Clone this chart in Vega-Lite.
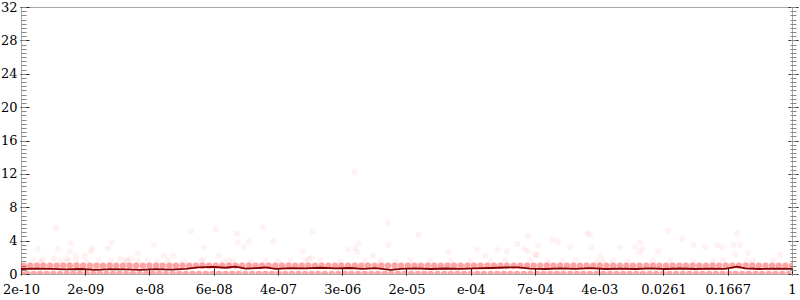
{
  "$schema": "https://vega.github.io/schema/vega-lite/v6.json",
  "autosize": "none",
  "width": 771,
  "height": 267,
  "padding": {"left": 21, "top": 7, "right": 8, "bottom": 26},
  "background": "white",
  "config": {
    "view": {"stroke": "#a8a8a8", "strokeWidth": 1},
    "axis": {"labelFont": "DejaVu Serif", "labelFontSize": 13, "labelColor": "#000", "grid": false, "domain": false, "title": null}
  },
  "datasets": {
    "band1": [
      {"x":2.15e-10,"y":1},{"x":2.61e-10,"y":1},{"x":3.16e-10,"y":1},{"x":3.83e-10,"y":1},{"x":4.64e-10,"y":1},{"x":5.62e-10,"y":1},{"x":6.81e-10,"y":1},{"x":8.25e-10,"y":1},
      {"x":1e-9,"y":1},{"x":1.21e-9,"y":1},{"x":1.47e-9,"y":1},{"x":1.78e-9,"y":1},{"x":2.15e-9,"y":1},{"x":2.61e-9,"y":1},{"x":3.16e-9,"y":1},{"x":3.83e-9,"y":1},{"x":4.64e-9,"y":1},{"x":5.62e-9,"y":1},{"x":6.81e-9,"y":1},{"x":8.25e-9,"y":1},
      {"x":1e-8,"y":1},{"x":1.21e-8,"y":1},{"x":1.47e-8,"y":1},{"x":1.78e-8,"y":1},{"x":2.15e-8,"y":1},{"x":2.61e-8,"y":1},{"x":3.16e-8,"y":1},{"x":3.83e-8,"y":1},{"x":4.64e-8,"y":1},{"x":5.62e-8,"y":1},{"x":6.81e-8,"y":1},{"x":8.25e-8,"y":1},
      {"x":1e-7,"y":1},{"x":1.21e-7,"y":1},{"x":1.47e-7,"y":1},{"x":1.78e-7,"y":1},{"x":2.15e-7,"y":1},{"x":2.61e-7,"y":1},{"x":3.16e-7,"y":1},{"x":3.83e-7,"y":1},{"x":4.64e-7,"y":1},{"x":5.62e-7,"y":1},{"x":6.81e-7,"y":1},{"x":8.25e-7,"y":1},
      {"x":1e-6,"y":1},{"x":1.21e-6,"y":1},{"x":1.47e-6,"y":1},{"x":1.78e-6,"y":1},{"x":2.15e-6,"y":1},{"x":2.61e-6,"y":1},{"x":3.16e-6,"y":1},{"x":3.83e-6,"y":1},{"x":4.64e-6,"y":1},{"x":5.62e-6,"y":1},{"x":6.81e-6,"y":1},{"x":8.25e-6,"y":1},
      {"x":1e-5,"y":1},{"x":1.21e-5,"y":1},{"x":1.47e-5,"y":1},{"x":1.78e-5,"y":1},{"x":2.15e-5,"y":1},{"x":2.61e-5,"y":1},{"x":3.16e-5,"y":1},{"x":3.83e-5,"y":1},{"x":4.64e-5,"y":1},{"x":5.62e-5,"y":1},{"x":6.81e-5,"y":1},{"x":8.25e-5,"y":1},
      {"x":1e-4,"y":1},{"x":1.21e-4,"y":1},{"x":1.47e-4,"y":1},{"x":1.78e-4,"y":1},{"x":2.15e-4,"y":1},{"x":2.61e-4,"y":1},{"x":3.16e-4,"y":1},{"x":3.83e-4,"y":1},{"x":4.64e-4,"y":1},{"x":5.62e-4,"y":1},{"x":6.81e-4,"y":1},{"x":8.25e-4,"y":1},
      {"x":1e-3,"y":1},{"x":1.21e-3,"y":1},{"x":1.47e-3,"y":1},{"x":1.78e-3,"y":1},{"x":2.15e-3,"y":1},{"x":2.61e-3,"y":1},{"x":3.16e-3,"y":1},{"x":3.83e-3,"y":1},{"x":4.64e-3,"y":1},{"x":5.62e-3,"y":1},{"x":6.81e-3,"y":1},{"x":8.25e-3,"y":1},
      {"x":1e-2,"y":1},{"x":1.21e-2,"y":1},{"x":1.47e-2,"y":1},{"x":1.78e-2,"y":1},{"x":2.15e-2,"y":1},{"x":2.61e-2,"y":1},{"x":3.16e-2,"y":1},{"x":3.83e-2,"y":1},{"x":4.64e-2,"y":1},{"x":5.62e-2,"y":1},{"x":6.81e-2,"y":1},{"x":8.25e-2,"y":1},
      {"x":0.1,"y":1},{"x":0.121,"y":1},{"x":0.147,"y":1},{"x":0.178,"y":1},{"x":0.215,"y":1},{"x":0.261,"y":1},{"x":0.316,"y":1},{"x":0.383,"y":1},{"x":0.464,"y":1},{"x":0.562,"y":1},{"x":0.681,"y":1},{"x":0.825,"y":1},{"x":1,"y":1}
    ],
    "band0": [
      {"x":2e-10,"y":0},{"x":2.37e-10,"y":0},{"x":2.87e-10,"y":0},{"x":3.48e-10,"y":0},{"x":4.22e-10,"y":0},{"x":5.11e-10,"y":0},{"x":6.19e-10,"y":0},{"x":7.5e-10,"y":0},{"x":9.09e-10,"y":0},
      {"x":1.1e-9,"y":0},{"x":1.33e-9,"y":0},{"x":1.62e-9,"y":0},{"x":1.96e-9,"y":0},{"x":2.37e-9,"y":0},{"x":2.87e-9,"y":0},{"x":3.48e-9,"y":0},{"x":4.22e-9,"y":0},{"x":5.11e-9,"y":0},{"x":6.19e-9,"y":0},{"x":7.5e-9,"y":0},{"x":9.09e-9,"y":0},
      {"x":1.1e-8,"y":0},{"x":1.33e-8,"y":0},{"x":1.62e-8,"y":0},{"x":1.96e-8,"y":0},{"x":2.37e-8,"y":0},{"x":2.87e-8,"y":0},{"x":3.48e-8,"y":0},{"x":4.22e-8,"y":0},{"x":5.11e-8,"y":0},{"x":6.19e-8,"y":0},{"x":7.5e-8,"y":0},{"x":9.09e-8,"y":0},
      {"x":1.1e-7,"y":0},{"x":1.33e-7,"y":0},{"x":1.62e-7,"y":0},{"x":1.96e-7,"y":0},{"x":2.37e-7,"y":0},{"x":2.87e-7,"y":0},{"x":3.48e-7,"y":0},{"x":4.22e-7,"y":0},{"x":5.11e-7,"y":0},{"x":6.19e-7,"y":0},{"x":7.5e-7,"y":0},{"x":9.09e-7,"y":0},
      {"x":1.1e-6,"y":0},{"x":1.33e-6,"y":0},{"x":1.62e-6,"y":0},{"x":1.96e-6,"y":0},{"x":2.37e-6,"y":0},{"x":2.87e-6,"y":0},{"x":3.48e-6,"y":0},{"x":4.22e-6,"y":0},{"x":5.11e-6,"y":0},{"x":6.19e-6,"y":0},{"x":7.5e-6,"y":0},{"x":9.09e-6,"y":0},
      {"x":1.1e-5,"y":0},{"x":1.33e-5,"y":0},{"x":1.62e-5,"y":0},{"x":1.96e-5,"y":0},{"x":2.37e-5,"y":0},{"x":2.87e-5,"y":0},{"x":3.48e-5,"y":0},{"x":4.22e-5,"y":0},{"x":5.11e-5,"y":0},{"x":6.19e-5,"y":0},{"x":7.5e-5,"y":0},{"x":9.09e-5,"y":0},
      {"x":1.1e-4,"y":0},{"x":1.33e-4,"y":0},{"x":1.62e-4,"y":0},{"x":1.96e-4,"y":0},{"x":2.37e-4,"y":0},{"x":2.87e-4,"y":0},{"x":3.48e-4,"y":0},{"x":4.22e-4,"y":0},{"x":5.11e-4,"y":0},{"x":6.19e-4,"y":0},{"x":7.5e-4,"y":0},{"x":9.09e-4,"y":0},
      {"x":1.1e-3,"y":0},{"x":1.33e-3,"y":0},{"x":1.62e-3,"y":0},{"x":1.96e-3,"y":0},{"x":2.37e-3,"y":0},{"x":2.87e-3,"y":0},{"x":3.48e-3,"y":0},{"x":4.22e-3,"y":0},{"x":5.11e-3,"y":0},{"x":6.19e-3,"y":0},{"x":7.5e-3,"y":0},{"x":9.09e-3,"y":0},
      {"x":1.1e-2,"y":0},{"x":1.33e-2,"y":0},{"x":1.62e-2,"y":0},{"x":1.96e-2,"y":0},{"x":2.37e-2,"y":0},{"x":2.87e-2,"y":0},{"x":3.48e-2,"y":0},{"x":4.22e-2,"y":0},{"x":5.11e-2,"y":0},{"x":6.19e-2,"y":0},{"x":7.5e-2,"y":0},{"x":9.09e-2,"y":0},
      {"x":0.11,"y":0},{"x":0.133,"y":0},{"x":0.162,"y":0},{"x":0.196,"y":0},{"x":0.237,"y":0},{"x":0.287,"y":0},{"x":0.348,"y":0},{"x":0.422,"y":0},{"x":0.511,"y":0},{"x":0.619,"y":0},{"x":0.75,"y":0},{"x":0.909,"y":0}
    ],
    "scatter": [
      {"x":3.27e-10,"y":3.05},{"x":5.5e-10,"y":5.45},{"x":5.8e-10,"y":3.05},{"x":8.5e-10,"y":3.7},{"x":8.3e-10,"y":2.7},{"x":1.56e-9,"y":3.05},{"x":1.51e-9,"y":2.7},{"x":2.48e-9,"y":3.05},{"x":2.78e-9,"y":3.8},{"x":9.8e-10,"y":2.2},{"x":1.27e-9,"y":2.2},{"x":5.2e-10,"y":1.85},{"x":7.6e-10,"y":1.85},{"x":3.6e-9,"y":1.85},{"x":4.8e-9,"y":1.85},{"x":5.9e-9,"y":2.45},{"x":9.4e-9,"y":3.5},{"x":1.25e-8,"y":2.2},{"x":1.67e-8,"y":2.2},{"x":2.73e-8,"y":5.1},{"x":3.98e-8,"y":3.2},{"x":5.6e-8,"y":5.3},{"x":6.1e-8,"y":2.2},{"x":1.04e-7,"y":4.85},{"x":1.07e-7,"y":3.8},{"x":1.46e-7,"y":3.9},{"x":1.27e-7,"y":3.2},{"x":2.2e-7,"y":5.6},{"x":3.0e-7,"y":3.9},{"x":7.0e-7,"y":2.7},{"x":8.3e-7,"y":1.85},{"x":9.1e-7,"y":1.9},{"x":9.3e-7,"y":5.1},{"x":2.57e-6,"y":2.9},{"x":3.15e-6,"y":12.2},{"x":3.2e-6,"y":3.05},{"x":3.5e-6,"y":3.65},{"x":3.4e-6,"y":2.6},{"x":5.4e-6,"y":2.2},{"x":8.2e-6,"y":6.2},{"x":8.4e-6,"y":3.5},{"x":2.0e-5,"y":4.7},{"x":4.8e-5,"y":2.7},{"x":1.1e-4,"y":2.9},{"x":1.39e-4,"y":2.2},{"x":1.97e-4,"y":2.9},{"x":2.6e-4,"y":2.7},{"x":3.5e-4,"y":3.6},{"x":4.7e-4,"y":2.7},{"x":6.1e-4,"y":2.3},{"x":4.3e-4,"y":3.05},{"x":4.8e-4,"y":4.5},{"x":5.9e-4,"y":2.35},{"x":6.4e-4,"y":3.4},{"x":9.7e-4,"y":4.1},{"x":1.15e-3,"y":3.9},{"x":1.63e-3,"y":3.2},{"x":2.66e-3,"y":4.85},{"x":2.9e-3,"y":4.7},{"x":2.99e-3,"y":3.2},{"x":3.87e-3,"y":2.2},{"x":6.9e-3,"y":3.2},{"x":0.0107,"y":3.2},{"x":0.0123,"y":3.8},{"x":0.0131,"y":3.05},{"x":0.0121,"y":2.6},{"x":0.0207,"y":2.7},{"x":0.0277,"y":5.2},{"x":0.0416,"y":4.25},{"x":0.0571,"y":3.5},{"x":0.081,"y":3.2},{"x":0.1146,"y":3.5},{"x":0.132,"y":3.2},{"x":0.204,"y":4.85},{"x":0.182,"y":3.5},{"x":0.222,"y":3.5},{"x":0.192,"y":2.35},{"x":0.28,"y":2.55},{"x":0.708,"y":2.35},
      {"x":2.83e-10,"y":1.6},{"x":3.56e-10,"y":1.5},{"x":3.78e-10,"y":1.7},{"x":6.4e-10,"y":1.55},{"x":7.8e-10,"y":1.5},{"x":9.8e-10,"y":1.6},{"x":1.31e-9,"y":1.55},{"x":1.91e-9,"y":1.7},{"x":2.7e-9,"y":1.5},{"x":4.2e-9,"y":1.6},{"x":4.4e-9,"y":1.5},{"x":5.9e-9,"y":1.55},{"x":7.9e-9,"y":1.6},{"x":1.05e-8,"y":1.5},{"x":1.41e-8,"y":1.65},{"x":2.23e-8,"y":1.5},{"x":3.66e-8,"y":1.55},{"x":3.87e-8,"y":1.7},{"x":7.1e-8,"y":1.5},{"x":8.2e-8,"y":1.6},{"x":9.2e-8,"y":1.55},{"x":1.55e-7,"y":1.5},{"x":2.4e-7,"y":1.6},{"x":3.4e-7,"y":1.55},{"x":4.9e-7,"y":1.6},{"x":7.6e-7,"y":1.5},{"x":1.17e-6,"y":1.65},{"x":2.1e-6,"y":1.5},{"x":4.3e-6,"y":1.55},{"x":6.7e-6,"y":1.6},{"x":1.03e-5,"y":1.5},{"x":1.59e-5,"y":1.7},{"x":2.83e-5,"y":1.55},{"x":5.1e-5,"y":1.6},{"x":9.0e-5,"y":1.5},{"x":1.61e-4,"y":1.55},{"x":2.48e-4,"y":1.6},{"x":5.1e-4,"y":1.6},{"x":8.4e-4,"y":1.5},{"x":1.29e-3,"y":1.55},{"x":1.88e-3,"y":1.65},{"x":3.55e-3,"y":1.5},{"x":4.2e-3,"y":1.55},{"x":5.6e-3,"y":1.6},{"x":8.5e-3,"y":1.5},{"x":0.0179,"y":1.55},{"x":0.0294,"y":1.6},{"x":0.0571,"y":1.5},{"x":0.102,"y":1.55},{"x":0.136,"y":1.6},{"x":0.273,"y":1.5},{"x":0.324,"y":1.55},{"x":0.578,"y":1.6}
    ],
    "mean": [
      {"x":2e-10,"y":0.6},{"x":3.1e-10,"y":0.65},{"x":4.8e-10,"y":0.62},{"x":7.3e-10,"y":0.55},{"x":1.13e-9,"y":0.6},{"x":1.75e-9,"y":0.5},{"x":2.7e-9,"y":0.58},{"x":4.2e-9,"y":0.55},{"x":6.4e-9,"y":0.5},{"x":9.9e-9,"y":0.58},{"x":1.53e-8,"y":0.52},{"x":2.37e-8,"y":0.62},{"x":3.35e-8,"y":0.8},{"x":5.2e-8,"y":0.85},{"x":7.5e-8,"y":0.75},{"x":1.0e-7,"y":0.88},{"x":1.34e-7,"y":0.65},{"x":1.95e-7,"y":0.72},{"x":2.4e-7,"y":0.8},{"x":3.2e-7,"y":0.62},{"x":4.9e-7,"y":0.7},{"x":7.6e-7,"y":0.68},{"x":1.17e-6,"y":0.75},{"x":1.82e-6,"y":0.68},{"x":2.8e-6,"y":0.72},{"x":3.96e-6,"y":0.62},{"x":5.8e-6,"y":0.7},{"x":8.9e-6,"y":0.5},{"x":1.19e-5,"y":0.62},{"x":1.84e-5,"y":0.68},{"x":2.83e-5,"y":0.6},{"x":4.4e-5,"y":0.66},{"x":6.7e-5,"y":0.62},{"x":1.04e-4,"y":0.68},{"x":1.61e-4,"y":0.72},{"x":2.48e-4,"y":0.78},{"x":3.6e-4,"y":0.8},{"x":5.1e-4,"y":0.65},{"x":7.9e-4,"y":0.6},{"x":1.22e-3,"y":0.68},{"x":1.88e-3,"y":0.62},{"x":2.9e-3,"y":0.7},{"x":4.5e-3,"y":0.6},{"x":6.9e-3,"y":0.65},{"x":0.0107,"y":0.6},{"x":0.0164,"y":0.68},{"x":0.0254,"y":0.6},{"x":0.0392,"y":0.66},{"x":0.0605,"y":0.6},{"x":0.0934,"y":0.65},{"x":0.144,"y":0.62},{"x":0.204,"y":0.88},{"x":0.257,"y":0.68},{"x":0.397,"y":0.6},{"x":0.612,"y":0.65},{"x":1,"y":0.62}
    ]
  },
  "encoding": {
    "x": {
      "field": "x", "type": "quantitative",
      "scale": {"type": "log", "domain": [2e-10, 1], "nice": false},
      "axis": {
        "values": [2e-10, 1.286e-9, 8.27e-9, 5.32e-8, 3.42e-7, 2.2e-6, 1.414e-5, 9.09e-5, 5.85e-4, 3.76e-3, 0.02417, 0.1555, 1],
        "labelExpr": "datum.value < 5e-10 ? '2e-10' : datum.value < 3e-9 ? '2e-09' : datum.value < 2e-8 ? 'e-08' : datum.value < 1e-7 ? '6e-08' : datum.value < 8e-7 ? '4e-07' : datum.value < 5e-6 ? '3e-06' : datum.value < 3e-5 ? '2e-05' : datum.value < 2e-4 ? 'e-04' : datum.value < 1.5e-3 ? '7e-04' : datum.value < 1e-2 ? '4e-03' : datum.value < 0.06 ? '0.0261' : datum.value < 0.5 ? '0.1667' : '1'",
        "offset": -6, "tickSize": 7, "tickColor": "#222", "labelPadding": 8, "labelFlush": false, "labelOverlap": false
      }
    }
  },
  "layer": [
    {
      "data": {"name": "band1"},
      "mark": {"type": "circle", "size": 40, "color": "#ff1a1a", "opacity": 0.4, "clip": true},
      "encoding": {
        "y": {"field": "y", "type": "quantitative", "scale": {"domain": [0, 32], "nice": false},
          "axis": {"orient": "left", "values": [0,4,8,12,16,20,24,28,32], "offset": -8, "tickSize": 9, "tickColor": "#222", "labelPadding": 3}}
      }
    },
    {
      "data": {"name": "band0"},
      "mark": {"type": "circle", "size": 40, "color": "#ff1a1a", "opacity": 0.4, "clip": true},
      "encoding": {
        "y": {"field": "y", "type": "quantitative", "scale": {"domain": [0, 32], "nice": false},
          "axis": {"orient": "left", "values": [0,0.5,1,1.5,2,2.5,3,3.5,4,4.5,5,5.5,6,6.5,7,7.5,8,8.5,9,9.5,10,10.5,11,11.5,12,12.5,13,13.5,14,14.5,15,15.5,16,16.5,17,17.5,18,18.5,19,19.5,20,20.5,21,21.5,22,22.5,23,23.5,24,24.5,25,25.5,26,26.5,27,27.5,28,28.5,29,29.5,30,30.5,31,31.5,32], "offset": -5, "tickSize": 5, "tickColor": "#888", "labels": false}}
      }
    },
    {
      "data": {"name": "scatter"},
      "mark": {"type": "circle", "size": 40, "color": "#ff0000", "opacity": 0.05, "clip": true},
      "encoding": {
        "y": {"field": "y", "type": "quantitative", "scale": {"domain": [0, 32], "nice": false},
          "axis": {"orient": "right", "values": [0,4,8,12,16,20,24,28,32], "offset": -4, "tickSize": 10, "tickColor": "#222", "labels": false}}
      }
    },
    {
      "data": {"name": "mean"},
      "mark": {"type": "line", "color": "#800000", "strokeWidth": 1.8, "clip": true},
      "encoding": {
        "y": {"field": "y", "type": "quantitative", "scale": {"domain": [0, 32], "nice": false},
          "axis": {"orient": "right", "values": [0,0.5,1,1.5,2,2.5,3,3.5,4,4.5,5,5.5,6,6.5,7,7.5,8,8.5,9,9.5,10,10.5,11,11.5,12,12.5,13,13.5,14,14.5,15,15.5,16,16.5,17,17.5,18,18.5,19,19.5,20,20.5,21,21.5,22,22.5,23,23.5,24,24.5,25,25.5,26,26.5,27,27.5,28,28.5,29,29.5,30,30.5,31,31.5,32], "offset": -2, "tickSize": 6, "tickColor": "#888", "labels": false}}
      }
    }
  ],
  "resolve": {"axis": {"y": "independent"}}
}
